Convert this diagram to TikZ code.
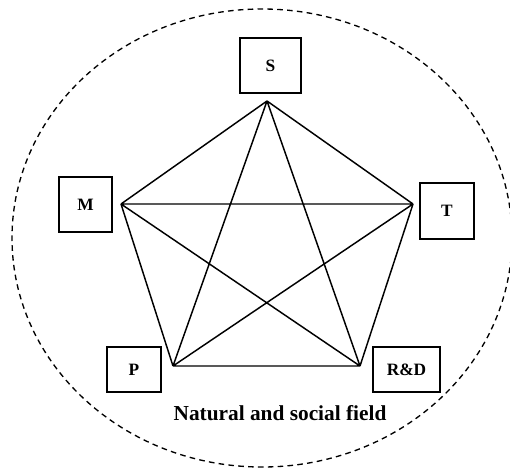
\documentclass[tikz,border=0pt]{standalone}
\usepackage{fontspec}
\setmainfont{Liberation Serif}
\begin{document}
\begin{tikzpicture}[x=0.75pt,y=-0.75pt,
  lbl/.style={draw,line width=1.2pt,inner sep=0pt,font=\fontsize{13}{15}\selectfont\bfseries},
  edge/.style={line width=1.1pt}]
\useasboundingbox (0,0) rectangle (510,468);
\clip (0,0) rectangle (510,468);
% field
\draw[line width=1pt,dash pattern=on 4.2pt off 3.2pt] (262,238) ellipse [x radius=250, y radius=229];
% boxes
\node[lbl,minimum width=45.5pt,minimum height=41pt] (S) at (270.5,65.5) {S};
\node[lbl,minimum width=40pt,minimum height=41pt] (M) at (85.5,204.5) {M};
\node[lbl,minimum width=40.5pt,minimum height=42pt] (T) at (447,211) {T};
\node[lbl,minimum width=40.5pt,minimum height=34pt] (P) at (134,369.5) {P};
\node[lbl,minimum width=50pt,minimum height=34pt] (RD) at (406.5,369.5) {R\&D};
% vertices
\coordinate (vS) at (267,101);
\coordinate (vM) at (121,204);
\coordinate (vT) at (413,204);
\coordinate (vP) at (173,366);
\coordinate (vR) at (360,366);
% complete graph
\draw[edge] (vS) -- (vM) (vS) -- (vT) (vS) -- (vP) (vS) -- (vR)
  (vM) -- (vT) (vM) -- (vP) (vM) -- (vR)
  (vT) -- (vP) (vT) -- (vR)
  (vP) -- (vR);
\node[font=\fontsize{16}{18}\selectfont\bfseries] (F) at (280,413) {Natural and social field};
\end{tikzpicture}
\end{document}
